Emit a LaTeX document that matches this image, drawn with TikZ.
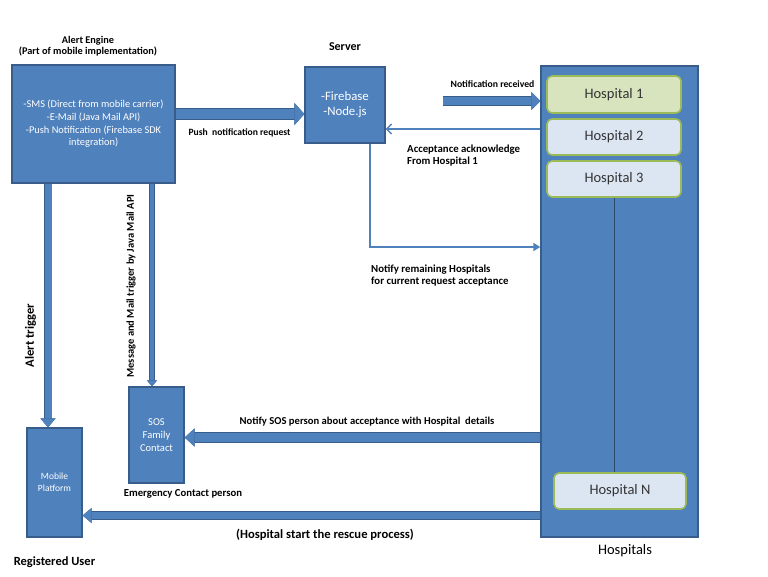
\documentclass[tikz,border=0pt]{standalone}
\usepackage{fontspec}
\setmainfont{Carlito}
\usetikzlibrary{arrows.meta}
\definecolor{boxfill}{HTML}{4F81BD}
\definecolor{boxdraw}{HTML}{385D8A}
\definecolor{hgreen}{HTML}{D7E4BD}
\definecolor{hborder}{HTML}{9BBB59}
\definecolor{hblue}{HTML}{DCE6F2}
\definecolor{htext}{HTML}{333333}
\definecolor{hline}{HTML}{2E4A6B}
\begin{document}
\begin{tikzpicture}[x=1pt,y=-1pt,
  blk/.style={draw=boxdraw, fill=boxfill, line width=1.2pt, text=white, align=center, inner sep=0pt},
  hbox/.style={draw=hborder, fill=hblue, line width=1.6pt, rounded corners=5pt,
    minimum width=134pt, minimum height=36pt, text=htext, font=\fontsize{14.5}{16}\selectfont},
  lbl/.style={font=\bfseries\fontsize{10.3}{11.5}\selectfont, align=left, inner sep=0pt},
  fat/.style n args={4}{line width=#1, draw=boxfill, -{Triangle[length=#3,width=#4,line width=0pt]},
    preaction={draw=boxdraw, line width=#2, -{Triangle[length=#3,width=#4,line width=1pt]}}},
  thin/.style={draw=boxfill, line width=1.8pt}
]
\useasboundingbox (0,0) rectangle (768,576);

% boxes
\node[blk, minimum width=163pt, minimum height=118pt, font=\fontsize{10.4}{12.7}\selectfont] (alert) at (93.5,124)
  {-SMS (Direct from mobile carrier)\\-E-Mail (Java Mail API)\\-Push Notification (Firebase SDK\\integration)};
\node[blk, minimum width=80pt, minimum height=76pt, font=\fontsize{12.8}{15}\selectfont] (server) at (345,105)
  {-Firebase\\-Node.js};
\node[blk, line width=1.4pt, minimum width=157pt, minimum height=471pt] (hosp) at (619.5,301.5) {};
\node[hbox, fill=hgreen, minimum height=37pt] (h1) at (614,94.5) {Hospital 1};
\node[hbox] (h2) at (614,137) {Hospital 2};
\node[hbox] (h3) at (614,179) {Hospital 3};
\node[hbox, minimum width=132pt] (hN) at (620,491) {Hospital N};
\node[blk, minimum width=55pt, minimum height=109pt, font=\fontsize{9.5}{12}\selectfont] (mobile) at (54.5,482.5)
  {Mobile\\Platform};
\node[blk, minimum width=55pt, minimum height=96pt, font=\fontsize{10.5}{13}\selectfont] (sos) at (156.5,435)
  {SOS\\Family\\Contact};

\draw[hline, line width=1pt] (h3.south -| 614,0) -- (hN.north -| 614,0);

% coordinates
\coordinate (yPush) at (0,114);
\coordinate (nStart) at (443,101);
\coordinate (yAck) at (0,129);
\coordinate (xRem) at (370,0);
\coordinate (yRem) at (0,247);
\coordinate (xTrig) at (48,0);
\coordinate (xMsg) at (152,0);
\coordinate (ySos) at (0,437.5);
\coordinate (yRes) at (0,515.5);

% connectors
\draw[fat={10pt}{11.5pt}{10pt}{22pt}] (alert.east |- yPush) -- (server.west |- yPush);
\draw[fat={8pt}{9.5pt}{9pt}{18pt}] (nStart) -- (hosp.west |- nStart);
\draw[thin, line width=1.6pt, -{Straight Barb[length=5pt,width=10pt,line width=1.4pt]}] (hosp.west |- yAck) -- (server.east |- yAck);
\draw[thin, -{Triangle[length=7pt,width=8pt]}] (server.south -| xRem) |- (hosp.west |- yRem);
\draw[fat={7pt}{8.5pt}{9pt}{15pt}] (alert.south -| xTrig) -- (mobile.north -| xTrig);
\draw[fat={4.5pt}{6pt}{6pt}{10pt}] (alert.south -| xMsg) -- (sos.north -| xMsg);
\draw[fat={9pt}{10.5pt}{10pt}{18pt}] (hosp.west |- ySos) -- (sos.east |- ySos);
\draw[fat={7pt}{8.5pt}{9pt}{15pt}] (hosp.west |- yRes) -- (mobile.east |- yRes);

% labels
\node[lbl, align=center, font=\bfseries\fontsize{10.3}{11}\selectfont] (lAlert) at (88,46) {Alert Engine\\(Part of mobile implementation)};
\node[lbl, font=\bfseries\fontsize{12}{14}\selectfont] (lServer) at (345,47) {Server};
\node[lbl, font=\bfseries\fontsize{9.6}{11}\selectfont] (lPush) at (239.5,133) {Push\ \ notification request};
\node[lbl, font=\bfseries\fontsize{9.7}{11}\selectfont] (lRecv) at (492.5,84) {Notification received};
\node[lbl, anchor=west, font=\bfseries\fontsize{10.8}{11.5}\selectfont] (lAck) at (407,155.5) {Acceptance acknowledge\\From Hospital 1};
\node[lbl, anchor=west, font=\bfseries\fontsize{10.8}{12}\selectfont] (lRem) at (371,275.5) {Notify remaining Hospitals\\for current request acceptance};
\node[lbl, rotate=90, font=\bfseries\fontsize{12.6}{14}\selectfont] (lTrig) at (30.5,335.5) {Alert trigger};
\node[lbl, rotate=90, font=\bfseries\fontsize{10.5}{12}\selectfont] (lMsg) at (131,286) {Message and Mail trigger by Java Mail API};
\node[lbl, font=\bfseries\fontsize{10.6}{12}\selectfont] (lSos) at (367,422) {Notify SOS person about acceptance with Hospital\ \ details};
\node[lbl, font=\bfseries\fontsize{10.7}{12}\selectfont] (lEmg) at (183,494) {Emergency Contact person};
\node[lbl, font=\bfseries\fontsize{12.6}{14}\selectfont] (lRes) at (325,535) {(Hospital start the rescue process)};
\node[lbl, font=\bfseries\fontsize{12.5}{14}\selectfont] (lUser) at (54.5,562) {Registered User};
\node[lbl, font=\fontsize{14.5}{16}\selectfont] (lHosp) at (625,551) {Hospitals};
\end{tikzpicture}
\end{document}
